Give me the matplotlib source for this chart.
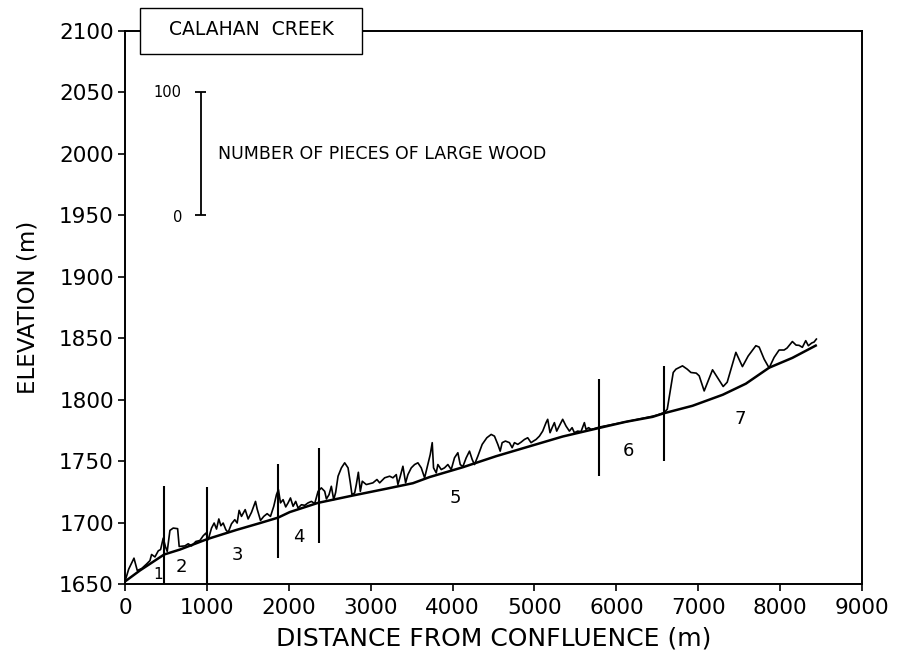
import matplotlib
matplotlib.use('Agg')
import matplotlib.pyplot as plt
from matplotlib.patches import Rectangle
import numpy as np


# ----- Channel bed profile (m) -----
bedDist = [0, 183, 479, 671, 1004, 1362, 1646, 1870, 2012, 2357, 2784, 3191, 3516, 3720,
           4126, 4533, 4939, 5345, 5793, 6118, 6443, 6585, 6930, 7300, 7582, 7866, 8150, 8435]
bedElev = [1652, 1661, 1674, 1678, 1686.5, 1694, 1699.5, 1704, 1708.5, 1716, 1722, 1727.5, 1732, 1737,
           1745, 1754, 1762, 1770, 1777, 1782, 1786, 1789, 1795, 1804, 1813, 1826, 1834, 1844]

# ----- Bed + number of pieces of large wood (1 piece = 1 m) -----
woodDist = [0, 45, 110, 150, 203, 260, 305, 325, 366, 407, 435, 467, 496, 516,
            549, 589, 643, 662, 732, 772, 813, 866, 915, 955, 988, 1016,
            1057, 1089, 1118, 1146, 1171, 1199, 1232, 1260, 1301, 1341, 1370, 1394, 1423, 1468,
            1504, 1545, 1594, 1614, 1655, 1695, 1736, 1777, 1817, 1850, 1874, 1899, 1931, 1963, 1992,
            2021, 2053, 2085, 2114, 2155, 2195, 2236, 2277, 2317, 2358,
            2398, 2439, 2460, 2492, 2520, 2549, 2573, 2602, 2643, 2683, 2724, 2752, 2772, 2805,
            2825, 2850, 2874, 2898, 2947, 3028, 3077, 3110, 3171, 3232, 3272, 3313, 3333, 3362,
            3394, 3427, 3455, 3496, 3537, 3577, 3618, 3659, 3699, 3728, 3752, 3768, 3801, 3821,
            3862, 3902, 3943, 3984, 4024, 4065, 4094, 4126, 4167, 4207, 4240, 4268, 4309, 4362,
            4419, 4472, 4512, 4553, 4582, 4606, 4646, 4695, 4728, 4756, 4797, 4837, 4878, 4918,
            4959, 4988, 5020, 5061, 5101, 5142, 5162, 5191, 5216, 5244, 5272, 5313, 5345, 5386,
            5427, 5460, 5488, 5528, 5569, 5610, 5630, 5662, 5691, 5732, 5793,
            6118, 6443, 6500, 6585,
            6622, 6695, 6728, 6808, 6866, 6911, 6976, 7012, 7073, 7175, 7232, 7305, 7354, 7460,
            7540, 7610, 7704, 7744, 7805, 7866, 7927, 7988, 8049, 8085, 8150, 8195, 8232, 8272,
            8313, 8345, 8386, 8415, 8443]
woodElev = [1652, 1662, 1671, 1661, 1662.5, 1666, 1669, 1674, 1672, 1677, 1678, 1687.3, 1680, 1676.5,
            1693.6, 1695.5, 1695, 1680.5, 1681, 1682.7, 1681, 1684.6, 1685.4, 1689.2, 1691.4, 1686,
            1695.5, 1699.6, 1694.7, 1702.9, 1697.4, 1699.6, 1694.1, 1692, 1699, 1702.3, 1699.6, 1709.9, 1705, 1710.5,
            1702.9, 1708.3, 1717.2, 1711, 1701.7, 1705, 1707.2, 1705, 1713.2, 1722.7, 1726.8, 1716, 1718.6, 1712.7, 1716,
            1720, 1713.2, 1717.2, 1711.8, 1714.5, 1714, 1716, 1717.2, 1715.4, 1725.4,
            1728.2, 1725.4, 1719.2, 1722.7, 1729.5, 1718.6, 1724.6, 1737.7, 1744.5, 1748.6, 1744.5, 1732.3, 1722.7, 1724.1,
            1730.9, 1740.9, 1725.4, 1733.6, 1730.9, 1732.3, 1735, 1732.3, 1736.4, 1737.7, 1736.4, 1739, 1730.9, 1737.7,
            1745.8, 1732.3, 1739, 1744.5, 1747.2, 1748.6, 1744.5, 1736.4, 1747.2, 1755.4, 1765, 1744.5, 1740.4, 1747.2,
            1743.1, 1744.5, 1747.2, 1743.1, 1752.7, 1756.8, 1747.2, 1745.5, 1752.7, 1758.1, 1751.3, 1747.2, 1754, 1763.6,
            1769, 1771.7, 1770.3, 1763.6, 1758.1, 1765, 1766.3, 1765, 1760.9, 1765, 1763.6, 1765.4, 1767.6, 1769,
            1765, 1766.3, 1767.6, 1770.3, 1774.4, 1781.3, 1784, 1773.1, 1777.2, 1781.3, 1774.4, 1779.9, 1784, 1778.5,
            1774.4, 1777.2, 1773.1, 1774.4, 1774, 1781.3, 1775.8, 1777.2, 1775.8, 1776.4, 1777.7,
            1782, 1786.5, 1787.5, 1789.5,
            1792.2, 1822.1, 1824.8, 1827.5, 1824.8, 1822.1, 1821.6, 1819.4, 1807.1, 1824.3, 1818.3, 1810.7, 1814.2, 1838.5,
            1826.9, 1835.5, 1843.9, 1842.8, 1833, 1825.8, 1834.4, 1840.4, 1840.4, 1842, 1847.3, 1844.4, 1844.2, 1842.6,
            1848, 1843.9, 1846.1, 1846.9, 1849.3]

# ----- Segment breaks and labels -----
breakDist = [479, 1004, 1870, 2366, 5793, 6585]
breakTop = [1730, 1729, 1748, 1761, 1817, 1827]
breakBottom = [1650, 1650, 1671, 1683.5, 1737.5, 1750]

segLabels = ['1', '2', '3', '4', '5', '6', '7']
segLabelX = [407, 691, 1370, 2122, 4037, 6150, 7512]
segLabelY = [1657.4, 1664.1, 1673.7, 1688.6, 1720, 1758, 1784]

xTicks = [0, 1000, 2000, 3000, 4000, 5000, 6000, 7000, 8000, 9000]
yTicks = [1650, 1700, 1750, 1800, 1850, 1900, 1950, 2000, 2050, 2100]


#* ----- Plotting -----
fig = plt.figure(figsize=(9.01, 6.56), dpi=100)
ax = fig.add_axes([0.1387, 0.1098, 0.818, 0.8429])

ax.plot(bedDist, bedElev, color='black', linewidth=1.8, zorder=3)
ax.plot(woodDist, woodElev, color='black', linewidth=1.2, zorder=3)
ax.vlines(breakDist, breakBottom, breakTop, color='black', linewidth=1.5, zorder=3)

for pos, lab in enumerate(segLabels):
    size = 11 if lab == '1' else 13
    ax.text(segLabelX[pos], segLabelY[pos], lab, fontsize=size, ha='center', va='center')

# scale bar for number of pieces
ax.vlines(927, 1950, 2050, color='black', linewidth=1.3)
ax.hlines([1950, 2050], 860, 994, color='black', linewidth=1.3)
ax.text(690, 2050, '100', fontsize=10.5, ha='right', va='center')
ax.text(700, 1948, '0', fontsize=10.5, ha='right', va='center')
ax.text(1134, 2000, 'NUMBER OF PIECES OF LARGE WOOD', fontsize=12.5, ha='left', va='center')

# title box sitting on the top spine
box = Rectangle((183, 2081.5), 2711, 37, facecolor='white', edgecolor='black',
                linewidth=1.0, clip_on=False, zorder=6)
ax.add_patch(box)
ax.text(1540, 2101.5, 'CALAHAN  CREEK', fontsize=13.5, ha='center', va='center', zorder=7)

ax.set_xlim(0, 9000)
ax.set_ylim(1650, 2100)
ax.set_xticks(xTicks)
ax.set_yticks(yTicks)
ax.tick_params(axis='both', direction='out', length=5, width=1.2, labelsize=15.5, pad=3)
ax.tick_params(axis='x', pad=5)
for side in ['left', 'right', 'top', 'bottom']:
    ax.spines[side].set_linewidth(1.4)

ax.set_xlabel('DISTANCE FROM CONFLUENCE (m)', fontsize=18, labelpad=6)
ax.set_ylabel('ELEVATION (m)', fontsize=16.5, labelpad=14)

plt.savefig('out.png', dpi=100)
